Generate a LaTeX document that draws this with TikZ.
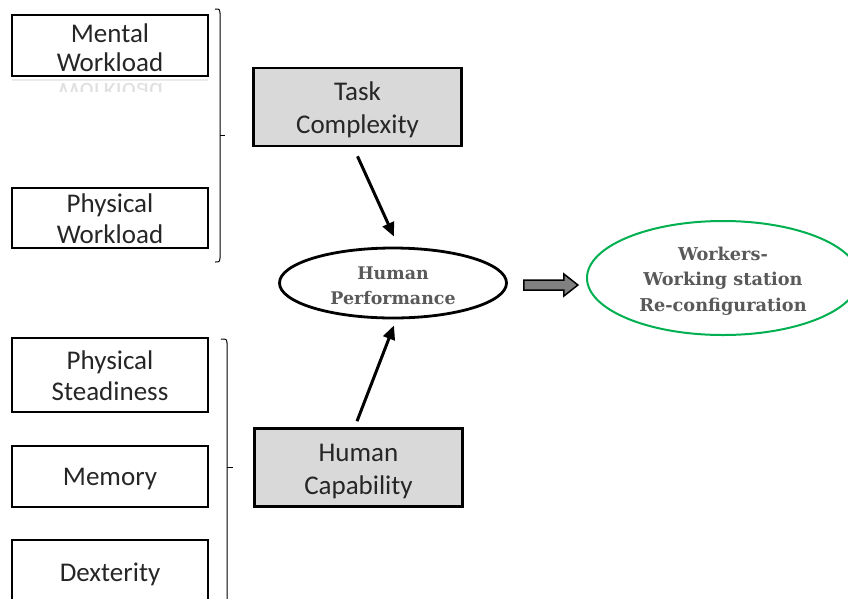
\documentclass[tikz,border=0pt]{standalone}
\usepackage{fontspec}
\setmainfont{Carlito}
\newfontfamily\ellfont{DejaVu Serif}
\usetikzlibrary{arrows.meta,calc,shapes.geometric}
\definecolor{boxgray}{RGB}{217,217,217}
\definecolor{txtgray}{RGB}{89,89,89}
\definecolor{mygreen}{RGB}{0,176,80}
\begin{document}
\begin{tikzpicture}[x=1pt,y=-1pt,
  fbox/.style={draw, line width=2.6pt, minimum width=196pt, inner sep=0pt},
  mainbox/.style={fbox, fill=boxgray, minimum width=208pt, minimum height=78pt},
  ftext/.style={align=center, inner sep=0pt, font=\fontsize{27}{31}\selectfont, text=black!85},
  mtext/.style={ftext, font=\fontsize{27}{33}\selectfont},
  ellnode/.style={ellipse, draw, inner sep=0pt},
  etext/.style={align=center, inner sep=0pt, text=txtgray,
     font=\ellfont\bfseries\fontsize{17.4}{25}\selectfont},
  arr/.style={line width=3pt, -{Triangle[length=14pt,width=12pt]}},
  brack/.style={line width=1pt}]
\useasboundingbox (0,0) rectangle (848,598);
\clip (0,0) rectangle (848,598);

% left factor boxes
\node[fbox, minimum height=61pt,
  label={[ftext, font=\fontsize{27}{29}\selectfont, name=mwt, yshift=-2pt]center:{Mental\\Workload}}] (mw) at (110,45.5) {};
\node[fbox, minimum height=60pt,
  label={[ftext, name=pwt, yshift=-1pt]center:{Physical\\Workload}}] (pw) at (110,218) {};
\node[fbox, minimum height=74pt,
  label={[ftext, name=pst, yshift=-1pt]center:{Physical\\Steadiness}}] (ps) at (110,375) {};
\node[fbox, minimum height=61pt,
  label={[ftext, name=met, yshift=-3pt]center:{Memory}}] (me) at (110,476.5) {};
\node[fbox, minimum height=61pt,
  label={[ftext, name=det, yshift=-4pt]center:{Dexterity}}] (de) at (110,570.5) {};

% faint reflection under Mental Workload
\begin{scope}
  \clip (10,78) rectangle (210,91);
  \draw[black!8, line width=1.5pt] (12,80) -- (208,80);
  \node[text=black!12, font=\fontsize{27}{30}\selectfont, yscale=-1, anchor=base] (refl) at (110,83) {Workload};
\end{scope}

% brackets
\draw[brack] (215,9) .. controls (219.5,9) .. (220,13) -- (220,258) .. controls (219.5,262) .. (215,262);
\draw[brack] (220,135.5) -- (225,135.5);
\draw[brack] (221,339) .. controls (226.5,339) .. (227,343) -- (227,600);
\draw[brack] (227,467) -- (233,467);

% main boxes
\node[mainbox, label={[mtext, name=tct, yshift=-2.5pt]center:{Task\\Complexity}}] (tc) at (357.5,107) {};
\node[mainbox, label={[mtext, name=hct, yshift=-4.5pt]center:{Human\\Capability}}] (hc) at (358.5,467.5) {};

% ellipses
\node[ellnode, line width=2.8pt, minimum width=227pt, minimum height=70pt,
  label={[etext, name=hpt, yshift=-3pt]center:{Human\\Performance}}] (hp) at (393,283) {};
\node[ellnode, draw=mygreen, line width=2pt, minimum width=272pt, minimum height=114pt,
  label={[etext, font=\ellfont\bfseries\fontsize{17.7}{25.5}\selectfont, name=wrt, yshift=-3pt]center:{Workers-\\Working station\\Re-configuration}}] (wr) at (723,278) {};

% arrows
\draw[arr] ($(tc.south)+(0,9)$) -- ($(hp.north)+(1,-10)$);
\draw[arr] ($(hc.north)+(-1.5,-6)$) -- ($(hp.south)+(1,6)$);

% block arrow
\coordinate (ba) at ($(hp.east)+(16,2)$);
\draw[line width=1.5pt, fill=black!50] (ba) ++(0,-5) -- ++(40,0) -- ++(0,-6) -- ++(14,11) -- ++(-14,11) -- ++(0,-6) -- ++(-40,0) -- cycle;
\end{tikzpicture}
\end{document}
